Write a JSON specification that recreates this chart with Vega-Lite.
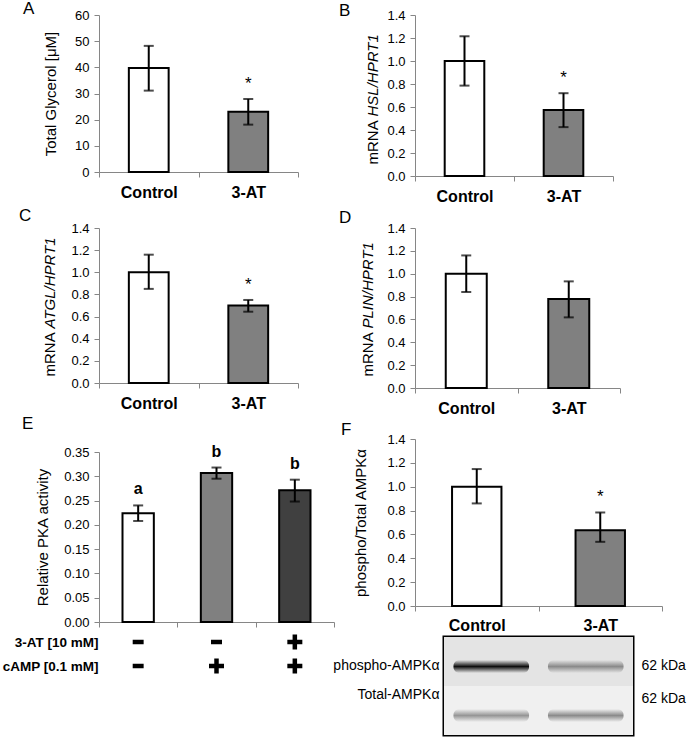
{
  "$schema": "https://vega.github.io/schema/vega-lite/v6.json",
  "autosize": {"type": "pad"},
  "padding": {"left": 1, "top": 0, "right": 5, "bottom": 0},
  "background": "white",
  "config": {
    "font": "Liberation Sans",
    "view": {"stroke": null},
    "axis": {"grid": false, "domainColor": "#868686", "tickColor": "#868686", "tickSize": 5, "labelFont": "Liberation Sans", "labelFontSize": 13, "labelColor": "black", "titleFont": "Liberation Sans", "titleFontSize": 15, "titleFontWeight": "normal", "titleColor": "black"},
    "axisY": {"labelPadding": 5},
    "axisX": {"labelFontWeight": "bold", "labelFontSize": 16, "labelAngle": 0, "labelPadding": 7},
    "title": {"anchor": "start", "frame": "group", "fontSize": 17, "fontWeight": "normal", "baseline": "alphabetic", "offset": 0, "color": "black", "font": "Liberation Sans"}
  },
  "hconcat": [
    {
      "vconcat": [
        {
          "width": 199, "height": 157,
          "title": {"text": "A", "dx": -76, "dy": 13},
          "data": {"values": [
            {"group": "Control", "mean": 39.7, "lo": 31.1, "hi": 48.2, "sig": ""},
            {"group": "3-AT", "mean": 23.0, "lo": 18.1, "hi": 27.9, "sig": "*"}
          ]},
          "encoding": {"x": {"field": "group", "type": "nominal", "sort": ["Control", "3-AT"], "scale": {"padding": 0}, "axis": {"title": null, "tickBand": "extent"}}},
          "layer": [
            {"mark": {"type": "bar", "width": {"band": 0.4}, "stroke": "black", "strokeWidth": 2},
             "encoding": {
               "y": {"field": "mean", "type": "quantitative", "scale": {"domain": [0, 60], "nice": false}, "axis": {"orient": "left", "values": [0, 10, 20, 30, 40, 50, 60], "title": "Total Glycerol [μM]", "titleX": -49, "titleBaseline": "middle", "titleAngle": 270}},
               "fill": {"field": "group", "type": "nominal", "scale": {"domain": ["Control", "3-AT", "cAMP", "3-AT + cAMP"], "range": ["#ffffff", "#808080", "#808080", "#404040"]}, "legend": null}}},
            {"mark": {"type": "rule", "strokeWidth": 2, "color": "black"},
             "encoding": {"y": {"field": "lo", "type": "quantitative", "axis": null}, "y2": {"field": "hi"}}},
            {"mark": {"type": "tick", "size": 10, "thickness": 2, "color": "black"},
             "encoding": {"y": {"field": "lo", "type": "quantitative", "axis": null}}},
            {"mark": {"type": "tick", "size": 10, "thickness": 2, "color": "black"},
             "encoding": {"y": {"field": "hi", "type": "quantitative", "axis": null}}},
            {"mark": {"type": "text", "dy": -10, "baseline": "alphabetic", "fontSize": 17, "color": "black"},
             "encoding": {"y": {"field": "hi", "type": "quantitative", "axis": null}, "text": {"field": "sig"}}}
          ],
          "resolve": {"axis": {"y": "independent"}}
        },
        {
          "vconcat": [
            {
              "width": 199, "height": 155,
              "title": {"text": "C", "dx": -80, "dy": 7},
              "data": {"values": [
                {"group": "Control", "mean": 1.0, "lo": 0.85, "hi": 1.159, "sig": ""},
                {"group": "3-AT", "mean": 0.70, "lo": 0.644, "hi": 0.75, "sig": "*"}
              ]},
              "encoding": {"x": {"field": "group", "type": "nominal", "sort": ["Control", "3-AT"], "scale": {"padding": 0}, "axis": {"title": null, "tickBand": "extent"}}},
              "layer": [
                {"mark": {"type": "bar", "width": {"band": 0.4}, "stroke": "black", "strokeWidth": 2},
                 "encoding": {
                   "y": {"field": "mean", "type": "quantitative", "scale": {"domain": [0, 1.4], "nice": false}, "axis": {"orient": "left", "values": [0, 0.2, 0.4, 0.6, 0.8, 1.0, 1.2, 1.4], "format": ".1f", "title": "mRNA", "titleX": -50, "titleY": 148, "titleAlign": "left", "titleBaseline": "middle", "titleAngle": 270}},
                   "fill": {"field": "group", "type": "nominal", "scale": {"domain": ["Control", "3-AT", "cAMP", "3-AT + cAMP"], "range": ["#ffffff", "#808080", "#808080", "#404040"]}, "legend": null}}},
                {"mark": {"type": "rule", "strokeWidth": 2, "color": "black"},
                 "encoding": {"y": {"field": "lo", "type": "quantitative", "axis": {"orient": "left", "title": "ATGL/HPRT1", "titleFontStyle": "italic", "domain": false, "ticks": false, "labels": false, "titleX": -50, "titleY": 100, "titleAlign": "left", "titleBaseline": "middle", "titleAngle": 270}}, "y2": {"field": "hi"}}},
                {"mark": {"type": "tick", "size": 10, "thickness": 2, "color": "black"},
                 "encoding": {"y": {"field": "lo", "type": "quantitative", "axis": null}}},
                {"mark": {"type": "tick", "size": 10, "thickness": 2, "color": "black"},
                 "encoding": {"y": {"field": "hi", "type": "quantitative", "axis": null}}},
                {"mark": {"type": "text", "dy": -10, "baseline": "alphabetic", "fontSize": 17, "color": "black"},
                 "encoding": {"y": {"field": "hi", "type": "quantitative", "axis": null}, "text": {"field": "sig"}}}
              ],
              "resolve": {"axis": {"y": "independent"}}
            },
            {
              "vconcat": [
                {
                  "width": 235, "height": 170,
                  "title": {"text": "E", "dx": -77, "dy": -7},
                  "data": {"values": [
                    {"group": "Control", "mean": 0.224, "lo": 0.208, "hi": 0.240, "letter": "a"},
                    {"group": "cAMP", "mean": 0.307, "lo": 0.295, "hi": 0.318, "letter": "b"},
                    {"group": "3-AT + cAMP", "mean": 0.271, "lo": 0.248, "hi": 0.293, "letter": "b"}
                  ]},
                  "encoding": {"x": {"field": "group", "type": "nominal", "sort": ["Control", "cAMP", "3-AT + cAMP"], "scale": {"padding": 0}, "axis": {"title": null, "labels": false, "tickBand": "extent"}}},
                  "layer": [
                    {"mark": {"type": "bar", "width": {"band": 0.4}, "stroke": "black", "strokeWidth": 2},
                     "encoding": {
                       "y": {"field": "mean", "type": "quantitative", "scale": {"domain": [0, 0.35], "nice": false}, "axis": {"orient": "left", "values": [0, 0.05, 0.1, 0.15, 0.2, 0.25, 0.3, 0.35], "format": ".2f", "title": "Relative PKA activity", "titleX": -57, "titleBaseline": "middle", "titleAngle": 270}},
                       "fill": {"field": "group", "type": "nominal", "scale": {"domain": ["Control", "3-AT", "cAMP", "3-AT + cAMP"], "range": ["#ffffff", "#808080", "#808080", "#404040"]}, "legend": null}}},
                    {"mark": {"type": "rule", "strokeWidth": 2, "color": "black"},
                     "encoding": {"y": {"field": "lo", "type": "quantitative", "axis": null}, "y2": {"field": "hi"}}},
                    {"mark": {"type": "tick", "size": 10, "thickness": 2, "color": "black"},
                     "encoding": {"y": {"field": "lo", "type": "quantitative", "axis": null}}},
                    {"mark": {"type": "tick", "size": 10, "thickness": 2, "color": "black"},
                     "encoding": {"y": {"field": "hi", "type": "quantitative", "axis": null}}},
                    {"mark": {"type": "text", "dy": -11, "baseline": "alphabetic", "fontSize": 16, "fontWeight": "bold", "color": "black"},
                     "encoding": {"y": {"field": "hi", "type": "quantitative", "axis": null}, "text": {"field": "letter"}}}
                  ],
                  "resolve": {"axis": {"y": "independent"}}
                },
                {
                  "width": 235, "height": 48,
                  "data": {"values": [
                    {"group": "Control", "factor": "3-AT [10 mM]", "sign": "minus"},
                    {"group": "cAMP", "factor": "3-AT [10 mM]", "sign": "minus"},
                    {"group": "3-AT + cAMP", "factor": "3-AT [10 mM]", "sign": "plus"},
                    {"group": "Control", "factor": "cAMP [0.1 mM]", "sign": "minus"},
                    {"group": "cAMP", "factor": "cAMP [0.1 mM]", "sign": "plus"},
                    {"group": "3-AT + cAMP", "factor": "cAMP [0.1 mM]", "sign": "plus"}
                  ]},
                  "mark": {"type": "point", "filled": true, "color": "black", "size": 225, "opacity": 1, "strokeWidth": 0},
                  "encoding": {
                    "x": {"field": "group", "type": "nominal", "sort": ["Control", "cAMP", "3-AT + cAMP"], "scale": {"padding": 0.5}, "axis": null},
                    "y": {"field": "factor", "type": "nominal", "sort": ["3-AT [10 mM]", "cAMP [0.1 mM]"], "scale": {"padding": 0.5}, "axis": {"title": null, "domain": false, "ticks": false, "labelFontWeight": "bold", "labelFontSize": 13.5, "labelPadding": 1}},
                    "shape": {"field": "sign", "type": "nominal", "scale": {"domain": ["minus", "plus"], "range": ["M-0.73,-0.3H0.73V0.3H-0.73Z", "M-0.3,-1H0.3V-0.3H1V0.3H0.3V1H-0.3V0.3H-1V-0.3H-0.3Z"]}, "legend": null}
                  }
                }
              ],
              "spacing": 8,
              "bounds": "flush"
            }
          ],
          "spacing": 69,
          "bounds": "flush"
        }
      ],
      "spacing": 56,
      "bounds": "flush"
    },
    {
      "vconcat": [
        {
          "width": 198, "height": 161,
          "title": {"text": "B", "dx": -76, "dy": 15},
          "data": {"values": [
            {"group": "Control", "mean": 1.0, "lo": 0.786, "hi": 1.215, "sig": ""},
            {"group": "3-AT", "mean": 0.575, "lo": 0.425, "hi": 0.72, "sig": "*"}
          ]},
          "encoding": {"x": {"field": "group", "type": "nominal", "sort": ["Control", "3-AT"], "scale": {"padding": 0}, "axis": {"title": null, "tickBand": "extent"}}},
          "layer": [
            {"mark": {"type": "bar", "width": {"band": 0.4}, "stroke": "black", "strokeWidth": 2},
             "encoding": {
               "y": {"field": "mean", "type": "quantitative", "scale": {"domain": [0, 1.4], "nice": false}, "axis": {"orient": "left", "values": [0, 0.2, 0.4, 0.6, 0.8, 1.0, 1.2, 1.4], "format": ".1f", "title": "mRNA", "titleX": -43, "titleY": 149, "titleAlign": "left", "titleBaseline": "middle", "titleAngle": 270}},
               "fill": {"field": "group", "type": "nominal", "scale": {"domain": ["Control", "3-AT", "cAMP", "3-AT + cAMP"], "range": ["#ffffff", "#808080", "#808080", "#404040"]}, "legend": null}}},
            {"mark": {"type": "rule", "strokeWidth": 2, "color": "black"},
             "encoding": {"y": {"field": "lo", "type": "quantitative", "axis": {"orient": "left", "title": "HSL/HPRT1", "titleFontStyle": "italic", "domain": false, "ticks": false, "labels": false, "titleX": -43, "titleY": 101, "titleAlign": "left", "titleBaseline": "middle", "titleAngle": 270}}, "y2": {"field": "hi"}}},
            {"mark": {"type": "tick", "size": 10, "thickness": 2, "color": "black"},
             "encoding": {"y": {"field": "lo", "type": "quantitative", "axis": null}}},
            {"mark": {"type": "tick", "size": 10, "thickness": 2, "color": "black"},
             "encoding": {"y": {"field": "hi", "type": "quantitative", "axis": null}}},
            {"mark": {"type": "text", "dy": -10, "baseline": "alphabetic", "fontSize": 17, "color": "black"},
             "encoding": {"y": {"field": "hi", "type": "quantitative", "axis": null}, "text": {"field": "sig"}}}
          ],
          "resolve": {"axis": {"y": "independent"}}
        },
        {
          "vconcat": [
            {
              "width": 205, "height": 160,
              "title": {"text": "D", "dx": -76, "dy": 9},
              "data": {"values": [
                {"group": "Control", "mean": 1.0, "lo": 0.84, "hi": 1.16},
                {"group": "3-AT", "mean": 0.779, "lo": 0.618, "hi": 0.933}
              ]},
              "encoding": {"x": {"field": "group", "type": "nominal", "sort": ["Control", "3-AT"], "scale": {"padding": 0}, "axis": {"title": null, "tickBand": "extent"}}},
              "layer": [
                {"mark": {"type": "bar", "width": {"band": 0.4}, "stroke": "black", "strokeWidth": 2},
                 "encoding": {
                   "y": {"field": "mean", "type": "quantitative", "scale": {"domain": [0, 1.4], "nice": false}, "axis": {"orient": "left", "values": [0, 0.2, 0.4, 0.6, 0.8, 1.0, 1.2, 1.4], "format": ".1f", "title": "mRNA", "titleX": -48, "titleY": 148, "titleAlign": "left", "titleBaseline": "middle", "titleAngle": 270}},
                   "fill": {"field": "group", "type": "nominal", "scale": {"domain": ["Control", "3-AT", "cAMP", "3-AT + cAMP"], "range": ["#ffffff", "#808080", "#808080", "#404040"]}, "legend": null}}},
                {"mark": {"type": "rule", "strokeWidth": 2, "color": "black"},
                 "encoding": {"y": {"field": "lo", "type": "quantitative", "axis": {"orient": "left", "title": "PLIN/HPRT1", "titleFontStyle": "italic", "domain": false, "ticks": false, "labels": false, "titleX": -48, "titleY": 100, "titleAlign": "left", "titleBaseline": "middle", "titleAngle": 270}}, "y2": {"field": "hi"}}},
                {"mark": {"type": "tick", "size": 10, "thickness": 2, "color": "black"},
                 "encoding": {"y": {"field": "lo", "type": "quantitative", "axis": null}}},
                {"mark": {"type": "tick", "size": 10, "thickness": 2, "color": "black"},
                 "encoding": {"y": {"field": "hi", "type": "quantitative", "axis": null}}}
              ],
              "resolve": {"axis": {"y": "independent"}}
            },
            {
              "vconcat": [
                {
                  "width": 247, "height": 167,
                  "title": {"text": "F", "dx": -74, "dy": 10},
                  "data": {"values": [
                    {"group": "Control", "mean": 1.0, "lo": 0.86, "hi": 1.148, "sig": ""},
                    {"group": "3-AT", "mean": 0.636, "lo": 0.538, "hi": 0.784, "sig": "*"}
                  ]},
                  "encoding": {"x": {"field": "group", "type": "nominal", "sort": ["Control", "3-AT"], "scale": {"padding": 0}, "axis": {"title": null, "tickBand": "extent", "labelPadding": 6}}},
                  "layer": [
                    {"mark": {"type": "bar", "width": {"band": 0.4}, "stroke": "black", "strokeWidth": 2},
                     "encoding": {
                       "y": {"field": "mean", "type": "quantitative", "scale": {"domain": [0, 1.4], "nice": false}, "axis": {"orient": "left", "values": [0, 0.2, 0.4, 0.6, 0.8, 1.0, 1.2, 1.4], "format": ".1f", "title": "phospho/Total AMPKα", "titleX": -55, "titleBaseline": "middle", "titleAngle": 270}},
                       "fill": {"field": "group", "type": "nominal", "scale": {"domain": ["Control", "3-AT", "cAMP", "3-AT + cAMP"], "range": ["#ffffff", "#808080", "#808080", "#404040"]}, "legend": null}}},
                    {"mark": {"type": "rule", "strokeWidth": 2, "color": "black"},
                     "encoding": {"y": {"field": "lo", "type": "quantitative", "axis": null}, "y2": {"field": "hi"}}},
                    {"mark": {"type": "tick", "size": 10, "thickness": 2, "color": "black"},
                     "encoding": {"y": {"field": "lo", "type": "quantitative", "axis": null}}},
                    {"mark": {"type": "tick", "size": 10, "thickness": 2, "color": "black"},
                     "encoding": {"y": {"field": "hi", "type": "quantitative", "axis": null}}},
                    {"mark": {"type": "text", "dy": -10, "baseline": "alphabetic", "fontSize": 17, "color": "black"},
                     "encoding": {"y": {"field": "hi", "type": "quantitative", "axis": null}, "text": {"field": "sig"}}}
                  ],
                  "resolve": {"axis": {"y": "independent"}}
                },
                {
                  "width": 189, "height": 98,
                  "view": {"stroke": "black", "strokeWidth": 3},
                  "layer": [
                    {"data": {"values": [
                      {"row": "phospho-AMPKα"},
                      {"row": "Total-AMPKα"}
                    ]},
                     "mark": {"type": "rect"},
                     "encoding": {
                       "y": {"field": "row", "type": "nominal", "sort": ["phospho-AMPKα", "Total-AMPKα"], "scale": {"paddingInner": 0, "paddingOuter": 0}, "axis": {"orient": "left", "title": null, "domain": false, "ticks": false, "labelFontSize": 14, "labelPadding": 5, "labelOffset": {"condition": {"test": "datum.value === 'Total-AMPKα'", "value": -16}, "value": 4}}},
                       "color": {"field": "row", "type": "nominal", "scale": {"domain": ["phospho-AMPKα", "Total-AMPKα"], "range": ["#e4e4e4", "#f0f0f0"]}, "legend": null}}},
                    {"data": {"values": [
                      {"lane": "Control", "row": "phospho-AMPKα", "intensity": 1.0},
                      {"lane": "3-AT", "row": "phospho-AMPKα", "intensity": 0.42},
                      {"lane": "Control", "row": "Total-AMPKα", "intensity": 0.4},
                      {"lane": "3-AT", "row": "Total-AMPKα", "intensity": 0.45}
                    ]},
                     "mark": {"type": "rect", "height": 13, "yOffset": 5, "cornerRadius": 6,
                       "fill": {"gradient": "linear", "x1": 0, "y1": 0, "x2": 0, "y2": 1, "stops": [
                         {"offset": 0, "color": "rgba(15,15,15,0)"},
                         {"offset": 0.5, "color": "rgba(15,15,15,1)"},
                         {"offset": 1, "color": "rgba(15,15,15,0)"}]}},
                     "encoding": {
                       "x": {"field": "lane", "type": "nominal", "sort": ["Control", "3-AT"], "scale": {"paddingInner": 0.2, "paddingOuter": 0.1}, "axis": null},
                       "y": {"field": "row", "type": "nominal", "sort": ["phospho-AMPKα", "Total-AMPKα"], "axis": {"orient": "right", "title": null, "domain": false, "ticks": false, "labelFontSize": 14, "labelPadding": 8, "labelExpr": "'62 kDa'", "labelOffset": {"condition": {"test": "datum.value === 'Total-AMPKα'", "value": -12}, "value": 4}}},
                       "opacity": {"field": "intensity", "type": "quantitative", "scale": null}}}
                  ],
                  "resolve": {"axis": {"y": "independent"}}
                }
              ],
              "spacing": 31,
              "center": true,
              "bounds": "flush"
            }
          ],
          "spacing": 51,
          "bounds": "flush"
        }
      ],
      "spacing": 52,
      "bounds": "flush"
    }
  ],
  "spacing": -4,
  "bounds": "full"
}
